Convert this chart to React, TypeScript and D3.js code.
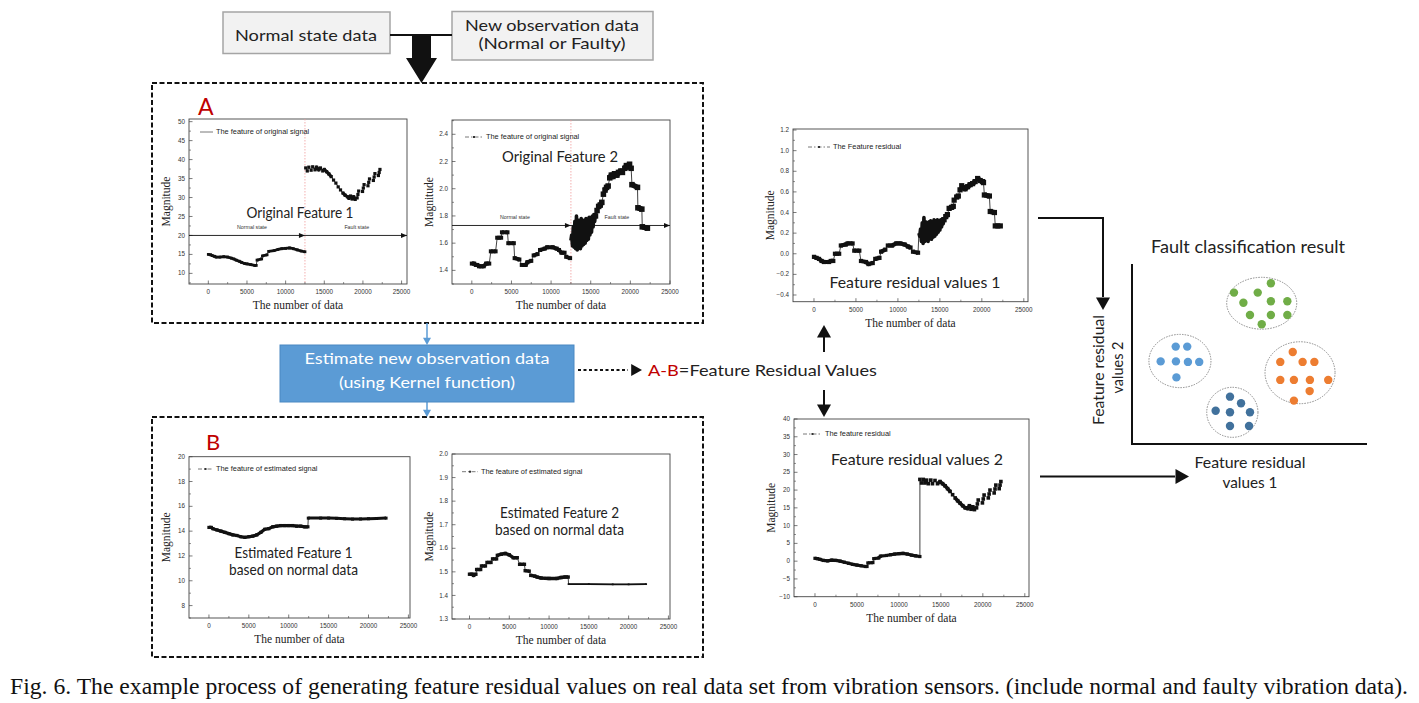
import React from "react";
import * as d3 from "d3";

type Pt = [number, number] | null;

// ---------- axis ticks ----------
const xTicks = [0, 5000, 10000, 15000, 20000, 25000];
const xMinorTicks = [2500, 7500, 12500, 17500, 22500];
const orig1YTicks = [10, 15, 20, 25, 30, 35, 40, 45, 50];
const orig1YMinor = [7.5, 12.5, 17.5, 22.5, 27.5, 32.5, 37.5, 42.5, 47.5];
const orig2YTicks = [1.4, 1.6, 1.8, 2.0, 2.2, 2.4];
const orig2YMinor = [1.3, 1.5, 1.7, 1.9, 2.1, 2.3, 2.5];
const resid1YTicks = [-0.4, -0.2, 0.0, 0.2, 0.4, 0.6, 0.8, 1.0, 1.2];
const resid1YMinor = [-0.3, -0.1, 0.1, 0.3, 0.5, 0.7, 0.9, 1.1];
const est1YTicks = [8, 10, 12, 14, 16, 18, 20];
const est1YMinor = [7, 9, 11, 13, 15, 17, 19];
const est2YTicks = [1.3, 1.4, 1.5, 1.6, 1.7, 1.8, 1.9, 2.0];
const est2YMinor = [1.35, 1.45, 1.55, 1.65, 1.75, 1.85, 1.95];
const resid2YTicks = [-10, -5, 0, 5, 10, 15, 20, 25, 30, 35, 40];
const resid2YMinor = [-7.5, -2.5, 2.5, 7.5, 12.5, 17.5, 22.5, 27.5, 32.5, 37.5];

// ---------- A: original feature 1 ----------
const orig1Normal: Pt[] = [
  [0, 15.0], [300, 14.9], [500, 14.7], [800, 14.5], [1000, 14.3], [1500, 14.3], [2000, 14.4], [2500, 14.3],
  [3000, 14.0], [3300, 13.8], [3600, 13.5], [4000, 13.2], [4300, 12.9], [4700, 12.6], [5000, 12.5], [5500, 12.3],
  [6000, 12.1], [6200, 12.1], [6300, 13.5], [6900, 13.8], [7000, 14.6], [7600, 14.9], [7800, 15.8], [8500, 16.0],
  [9000, 16.3], [9500, 16.5], [10000, 16.6], [10500, 16.7], [11000, 16.5], [11500, 16.2], [12000, 15.9], [12500, 15.7],
];
const orig1Fault: Pt[] = [
  [12600, 37.8], [12800, 37.0], [13000, 38.0], [13300, 37.2], [13500, 38.1], [13800, 37.3], [14000, 38.0],
  [14300, 37.3], [14500, 37.8], [14800, 37.0], [15000, 37.4], [15300, 36.8], [15600, 36.2], [15900, 35.5],
  [16200, 34.6], [16500, 33.8], [16800, 32.8], [17100, 32.0], [17400, 31.2], [17700, 30.6], [18000, 30.2],
  [18200, 29.8], [18400, 30.4], [18600, 29.6], [18800, 30.2], [19000, 29.5], null,
  [19250, 29.9], [19350, 30.8], [19450, 31.7], null,
  [19950, 31.6], [20050, 32.5], [20150, 33.4], null,
  [20650, 33.1], [20750, 34.0], [20850, 34.9], null,
  [21350, 34.5], [21450, 35.4], [21550, 36.3], null,
  [22000, 35.8], [22100, 36.6], [22200, 37.4],
];

// ---------- A: original feature 2 ----------
const orig2Normal: Pt[] = [
  [0, 1.45], [300, 1.45], [500, 1.44], [700, 1.44], [900, 1.43], [1200, 1.43], [1500, 1.43], [1800, 1.45],
  [2200, 1.45], [2400, 1.54], [3000, 1.54], [3200, 1.64], [3700, 1.64], [3800, 1.68], [4500, 1.68], [4600, 1.60],
  [5300, 1.60], [5400, 1.49], [6000, 1.48], [6300, 1.44], [6800, 1.44], [7000, 1.46], [7500, 1.47], [7800, 1.51],
  [8300, 1.52], [8600, 1.55], [9200, 1.56], [9500, 1.57], [10200, 1.57], [10700, 1.56], [11000, 1.55],
  [11300, 1.53], [11700, 1.53], [11900, 1.50], [12400, 1.49],
];
const orig2Noise: Pt[] = [
  [12500, 1.62], [12600, 1.66], [12700, 1.58], [12800, 1.72], [12900, 1.57], [13000, 1.76], [13100, 1.56],
  [13200, 1.80], [13300, 1.55], [13400, 1.77], [13500, 1.57], [13600, 1.75], [13700, 1.56], [13800, 1.78],
  [13900, 1.58], [14000, 1.76], [14100, 1.59], [14200, 1.77], [14300, 1.60], [14400, 1.78], [14500, 1.62],
  [14600, 1.77], [14700, 1.63], [14800, 1.79], [14900, 1.66], [15000, 1.78], [15100, 1.68], [15200, 1.80],
  [15300, 1.72], [15400, 1.81], [15500, 1.76], [15600, 1.82],
];
const orig2Trend: Pt[] = [
  [15600, 1.80], [15800, 1.84], [16000, 1.87], [16200, 1.88], [16400, 1.90], [16600, 1.96], [16800, 1.99],
  [17000, 2.01], [17200, 2.02], [17400, 2.08], [17600, 2.10], [17800, 2.09], [18000, 2.11], [18300, 2.10],
  [18500, 2.12], [18800, 2.13], [19000, 2.12], [19300, 2.15], [19500, 2.17], [19700, 2.16], [19900, 2.18],
  [20100, 2.15], [20200, 2.03], [20900, 2.01], [20950, 1.86], [21450, 1.85], [21500, 1.72], [22150, 1.71],
];

// ---------- residual 1 ----------
const resid1Normal: Pt[] = [
  [0, -0.03], [300, -0.04], [600, -0.05], [900, -0.07], [1200, -0.08], [1800, -0.08], [2000, -0.07],
  [2300, -0.07], [2500, 0.0], [3000, 0.0], [3200, 0.08], [3800, 0.09], [4000, 0.1], [4600, 0.1], [4800, 0.03],
  [5400, 0.03], [5600, -0.07], [6200, -0.08], [6500, -0.1], [7000, -0.09], [7300, -0.05], [7800, -0.04],
  [8000, 0.02], [8500, 0.04], [8800, 0.08], [9300, 0.08], [9800, 0.1], [10300, 0.1], [10800, 0.09],
  [11200, 0.07], [11500, 0.06], [11800, 0.02], [12400, 0.01],
];
const resid1Noise: Pt[] = [
  [12500, 0.20], [12600, 0.17], [12700, 0.24], [12800, 0.12], [12900, 0.30], [13000, 0.10], [13100, 0.35],
  [13200, 0.12], [13300, 0.31], [13400, 0.13], [13500, 0.30], [13600, 0.12], [13700, 0.31], [13800, 0.15],
  [13900, 0.32], [14000, 0.14], [14100, 0.31], [14200, 0.16], [14300, 0.33], [14400, 0.17], [14500, 0.32],
  [14600, 0.19], [14700, 0.33], [14800, 0.21], [14900, 0.32], [15000, 0.23], [15100, 0.33], [15200, 0.26],
  [15300, 0.34], [15400, 0.29], [15500, 0.35],
];
const resid1Trend: Pt[] = [
  [15500, 0.33], [15700, 0.36], [15900, 0.38], [16100, 0.44], [16400, 0.45], [16600, 0.46], [16700, 0.52],
  [17000, 0.55], [17200, 0.56], [17400, 0.62], [17600, 0.66], [17800, 0.64], [18000, 0.63], [18300, 0.65],
  [18600, 0.67], [18900, 0.68], [19200, 0.70], [19500, 0.73], [19800, 0.71], [20100, 0.70], [20200, 0.69],
  [20300, 0.57], [20900, 0.56], [21000, 0.41], [21500, 0.40], [21600, 0.27], [22200, 0.27],
];

// ---------- B: estimated feature 1 ----------
const est1Normal: Pt[] = [
  [0, 14.3], [300, 14.3], [500, 14.2], [1000, 14.1], [1500, 14.0], [2000, 13.9], [2500, 13.8], [3000, 13.7],
  [3500, 13.65], [4000, 13.55], [4500, 13.5], [5000, 13.55], [5500, 13.6], [6000, 13.7], [6500, 13.9],
  [7000, 14.15], [7500, 14.2], [8000, 14.35], [8500, 14.4], [9000, 14.45], [9500, 14.45], [10000, 14.45],
  [10500, 14.45], [11000, 14.4], [11500, 14.4], [12000, 14.35], [12400, 14.35],
];
const est1Fault: Pt[] = [
  [12450, 15.05], [14000, 15.05], [15000, 15.05], [16000, 15.03], [17000, 15.0], [18000, 14.97],
  [19000, 14.98], [20000, 15.0], [21000, 15.02], [22200, 15.05],
];

// ---------- B: estimated feature 2 ----------
const est2Normal: Pt[] = [
  [0, 1.49], [400, 1.49], [500, 1.485], [800, 1.49], [900, 1.51], [1400, 1.51], [1500, 1.525], [2000, 1.525],
  [2200, 1.54], [2700, 1.54], [2900, 1.555], [3400, 1.555], [3500, 1.57], [4000, 1.575], [4500, 1.578],
  [5000, 1.572], [5500, 1.56], [6000, 1.56], [6300, 1.532], [6900, 1.532], [7000, 1.505], [7500, 1.503],
  [7700, 1.485], [8200, 1.482], [8500, 1.478], [9000, 1.474], [10000, 1.472], [11000, 1.472], [11500, 1.476],
  [12000, 1.478], [12400, 1.478],
];
const est2Fault: Pt[] = [
  [12450, 1.448], [15000, 1.448], [18000, 1.447], [20000, 1.447], [22200, 1.448],
];

// ---------- residual 2 ----------
const resid2Normal: Pt[] = [
  [0, 0.8], [300, 0.7], [600, 0.5], [1000, 0.2], [1500, 0.1], [2000, 0.3], [2500, 0.2], [3000, 0.0],
  [3500, -0.3], [4000, -0.6], [4500, -0.9], [5000, -1.1], [5500, -1.3], [6000, -1.5], [6200, -1.5],
  [6300, -0.5], [6900, -0.4], [7000, 0.7], [7600, 0.9], [7800, 1.4], [8500, 1.6], [9000, 1.8], [9500, 2.0],
  [10000, 2.1], [10500, 2.2], [11000, 2.0], [11500, 1.7], [12000, 1.5], [12500, 1.3],
];
const resid2Fault: Pt[] = [
  [12500, 23.0], [12700, 22.0], [12900, 23.0], [13100, 22.0], [13300, 22.8], [13500, 21.8], [13800, 22.8],
  [14000, 21.8], [14300, 22.7], [14600, 21.8], [14900, 22.4], [15200, 21.8], [15500, 21.2], [15800, 20.4],
  [16100, 19.6], [16400, 18.7], [16700, 17.8], [17000, 17.0], [17300, 16.3], [17600, 15.6], [17900, 15.0],
  [18200, 14.8], [18400, 15.6], [18600, 14.6], [18800, 15.3], [19000, 14.5], null,
  [19250, 15.0], [19350, 16.1], [19450, 17.2], null,
  [19950, 16.4], [20050, 17.5], [20150, 18.6], null,
  [20650, 17.8], [20750, 18.9], [20850, 20.0], null,
  [21350, 19.2], [21450, 20.3], [21550, 21.4], null,
  [21950, 20.4], [22050, 21.4], [22150, 22.4],
];

// ---------- fault classification clusters (relative units 0-100) ----------
const clusterGreen: [number, number][] = [
  [43.4, 84.1], [53.5, 84.1], [59.1, 89.3], [47.4, 78.5], [59.1, 79.3], [66.1, 79.3], [50.2, 71.7],
  [59.1, 71.7], [66.1, 71.7], [55.2, 66.5],
];
const clusterLightBlue: [number, number][] = [
  [18.6, 54.1], [23.5, 54.1], [12.2, 45.9], [18.7, 45.9], [23.8, 45.6], [28.6, 45.6], [18.9, 37.0],
];
const clusterOrange: [number, number][] = [
  [68.4, 51.1], [63.1, 45.6], [72.6, 45.6], [77.6, 45.6], [63.1, 35.6], [68.9, 35.6], [75.7, 35.6],
  [83.5, 35.6], [75.6, 29.4], [68.9, 24.1],
];
const clusterDarkBlue: [number, number][] = [
  [41.7, 26.3], [46.4, 22.6], [35.6, 18.5], [41.7, 17.6], [50.2, 17.6], [41.7, 10.0], [49.8, 10.0],
];
// ellipse: cx, cy, rx, ry
const clusterEllipses: [number, number, number, number][] = [
  [55.2, 78.2, 14.9, 14.4],
  [20.4, 46.1, 13.2, 14.8],
  [71.5, 39.6, 14.9, 17.2],
  [42.7, 17.6, 10.9, 13.9],
];

type Series = { pts: Pt[]; thick: number; noise?: boolean; joinPrev?: boolean };
type ChartCfg = {
  id: string;
  x: number; y: number; w: number; h: number;
  xDomain: [number, number]; yDomain: [number, number];
  yTicks: number[]; yMinor: number[]; yFmt: (v: number) => string;
  series: Series[];
  legend: { text: string; dx: number; dy: number; len: number; solid?: boolean };
  state?: { y: number; nx: number; fx: number };
  faultLine?: boolean;
};

const INK = "#111";
const AX = "#444";
const SERIF = "'Liberation Serif', 'Times New Roman', serif";
const SANS = "'Liberation Sans', Arial, sans-serif";
const CAL = "Lato, 'Open Sans', sans-serif";

function Chart({ c }: { c: ChartCfg }) {
  const xs = d3.scaleLinear().domain(c.xDomain).range([c.x, c.x + c.w]);
  const ys = d3.scaleLinear().domain(c.yDomain).range([c.y + c.h, c.y]);
  const line = d3.line<[number, number]>();
  const els: React.ReactNode[] = [];
  let prevLast: [number, number] | null = null;
  c.series.forEach((s, si) => {
    const runs: [number, number][][] = [];
    let cur: [number, number][] = [];
    s.pts.forEach((p) => {
      if (p === null) { if (cur.length) runs.push(cur); cur = []; }
      else cur.push([xs(p[0]), ys(p[1])]);
    });
    if (cur.length) runs.push(cur);
    if (s.joinPrev && prevLast && runs.length) {
      els.push(<line key={`j${si}`} x1={prevLast[0]} y1={prevLast[1]} x2={runs[0][0][0]} y2={runs[0][0][1]} stroke={INK} strokeWidth={0.8} />);
    }
    runs.forEach((r, ri) => {
      if (s.noise) {
        els.push(<path key={`n${si}-${ri}`} d={line(r) || ""} fill="none" stroke={INK} strokeWidth={s.thick} strokeLinejoin="round" />);
        return;
      }
      els.push(<path key={`t${si}-${ri}`} d={line(r) || ""} fill="none" stroke={INK} strokeWidth={0.8} />);
      const segs: [number, number][][] = [];
      let seg: [number, number][] = [r[0]];
      for (let i = 1; i < r.length; i++) {
        const dx = Math.abs(r[i][0] - r[i - 1][0]);
        const dy = Math.abs(r[i][1] - r[i - 1][1]);
        if (dy <= 3 || dy <= 1.2 * dx) seg.push(r[i]);
        else { if (seg.length > 1) segs.push(seg); seg = [r[i]]; }
      }
      if (seg.length > 1) segs.push(seg);
      segs.forEach((sg, k) => els.push(
        <path key={`k${si}-${ri}-${k}`} d={line(sg) || ""} fill="none" stroke={INK} strokeWidth={s.thick} strokeLinejoin="round" />
      ));
      r.forEach((p, k) => els.push(
        <rect key={`m${si}-${ri}-${k}`} x={p[0] - s.thick / 2} y={p[1] - s.thick / 2} width={s.thick} height={s.thick} fill={INK} />
      ));
    });
    const lr = runs[runs.length - 1];
    if (lr) prevLast = lr[lr.length - 1];
  });

  const bottom = c.y + c.h;
  const lx = c.x + c.legend.dx, ly = c.y + c.legend.dy;
  return (
    <g>
      <rect x={c.x} y={c.y} width={c.w} height={c.h} fill="#fff" stroke={AX} strokeWidth={0.9} />
      {c.faultLine && (
        <line x1={xs(12500)} x2={xs(12500)} y1={c.y} y2={bottom} stroke="#f09a9a" strokeWidth={0.8} strokeDasharray="1.5 1.5" />
      )}
      {c.yTicks.map((t) => (
        <g key={`yt${t}`}>
          <line x1={c.x} x2={c.x + 3.5} y1={ys(t)} y2={ys(t)} stroke={AX} strokeWidth={0.7} />
          <text x={c.x - 4} y={ys(t)} dy="0.33em" textAnchor="end" fontFamily={SANS} fontSize={6.3} fill="#333">{c.yFmt(t)}</text>
        </g>
      ))}
      {c.yMinor.filter((t) => ys(t) >= c.y && ys(t) <= bottom).map((t) => (
        <line key={`ym${t}`} x1={c.x} x2={c.x + 2} y1={ys(t)} y2={ys(t)} stroke={AX} strokeWidth={0.6} />
      ))}
      {xTicks.map((t) => (
        <g key={`xt${t}`}>
          <line x1={xs(t)} x2={xs(t)} y1={bottom} y2={bottom - 3.5} stroke={AX} strokeWidth={0.7} />
          <text x={xs(t)} y={bottom + 10} textAnchor="middle" fontFamily={SANS} fontSize={6.3} fill="#333">{t}</text>
        </g>
      ))}
      {xMinorTicks.map((t) => (
        <line key={`xm${t}`} x1={xs(t)} x2={xs(t)} y1={bottom} y2={bottom - 2} stroke={AX} strokeWidth={0.6} />
      ))}
      {c.state && (
        <g>
          <line x1={c.x} x2={c.x + c.w} y1={ys(c.state.y)} y2={ys(c.state.y)} stroke={INK} strokeWidth={0.9} />
          <path d={`M${xs(12500) - 6},${ys(c.state.y) - 2.5}L${xs(12500)},${ys(c.state.y)}L${xs(12500) - 6},${ys(c.state.y) + 2.5}Z`} fill={INK} />
          <path d={`M${c.x + c.w - 6},${ys(c.state.y) - 2.5}L${c.x + c.w},${ys(c.state.y)}L${c.x + c.w - 6},${ys(c.state.y) + 2.5}Z`} fill={INK} />
          <text x={xs(c.state.nx)} y={ys(c.state.y) - 6} textAnchor="middle" fontFamily={SANS} fontSize={5.3} fill="#333">Normal state</text>
          <text x={xs(c.state.fx)} y={ys(c.state.y) - 6} textAnchor="middle" fontFamily={SANS} fontSize={5.3} fill="#333">Fault state</text>
        </g>
      )}
      {els}
      <g>
        <line x1={lx} x2={lx + c.legend.len} y1={ly} y2={ly} stroke="#555" strokeWidth={0.8}
          strokeDasharray={c.legend.solid ? undefined : "4 2 1.5 2"} />
        {!c.legend.solid && <rect x={lx + c.legend.len / 2 - 1} y={ly - 1} width={2} height={2} fill="#333" />}
        <text x={lx + c.legend.len + 3} y={ly} dy="0.33em" fontFamily={SANS} fontSize={7.4} fill="#222">{c.legend.text}</text>
      </g>
      <text transform={`translate(${c.x - 23},${c.y + c.h / 2}) rotate(-90)`} textAnchor="middle" dy="0.35em"
        fontFamily={SERIF} fontSize={11.5} fill="#222">Magnitude</text>
      <text x={c.x + c.w / 2} y={bottom + 25} textAnchor="middle" fontFamily={SERIF} fontSize={11.5} fill="#222">The number of data</text>
    </g>
  );
}

const fmt0 = (v: number) => d3.format("d")(v);
const fmt1 = (v: number) => d3.format(".1f")(v);

const charts: ChartCfg[] = [
  {
    id: "A1", x: 189, y: 119, w: 218, h: 165, xDomain: [-2500, 25700], yDomain: [7.2, 50.7],
    yTicks: orig1YTicks, yMinor: orig1YMinor, yFmt: fmt0,
    series: [{ pts: orig1Normal, thick: 2.8 }, { pts: orig1Fault, thick: 3.2 }],
    legend: { text: "The feature of original signal", dx: 11, dy: 13, len: 13, solid: true },
    state: { y: 20, nx: 5650, fx: 19200 }, faultLine: true,
  },
  {
    id: "A2", x: 452, y: 120, w: 218, h: 164, xDomain: [-2500, 25000], yDomain: [1.3, 2.505],
    yTicks: orig2YTicks, yMinor: orig2YMinor, yFmt: fmt1,
    series: [{ pts: orig2Normal, thick: 4 }, { pts: orig2Noise, thick: 3.6, noise: true },
      { pts: orig2Trend, thick: 5.5, joinPrev: true }],
    legend: { text: "The feature of original signal", dx: 13, dy: 17, len: 18 },
    state: { y: 1.73, nx: 5440, fx: 18300 }, faultLine: true,
  },
  {
    id: "R1", x: 793, y: 129, w: 235, h: 172.7, xDomain: [-2500, 25500], yDomain: [-0.465, 1.21],
    yTicks: resid1YTicks, yMinor: resid1YMinor, yFmt: fmt1,
    series: [{ pts: resid1Normal, thick: 4.2 }, { pts: resid1Noise, thick: 3.6, noise: true, joinPrev: true },
      { pts: resid1Trend, thick: 5.2, joinPrev: true }],
    legend: { text: "The Feature residual", dx: 15, dy: 18, len: 22 },
  },
  {
    id: "B1", x: 189, y: 456.7, w: 221, h: 161.3, xDomain: [-2500, 25200], yDomain: [7, 20],
    yTicks: est1YTicks, yMinor: est1YMinor, yFmt: fmt0,
    series: [{ pts: est1Normal, thick: 3.2 }, { pts: est1Fault, thick: 3, joinPrev: true }],
    legend: { text: "The feature of estimated signal", dx: 9, dy: 12.3, len: 15 },
  },
  {
    id: "B2", x: 452, y: 454, w: 218, h: 165, xDomain: [-2200, 25200], yDomain: [1.3, 2.0],
    yTicks: est2YTicks, yMinor: est2YMinor, yFmt: fmt1,
    series: [{ pts: est2Normal, thick: 3.4 }, { pts: est2Fault, thick: 1.8, joinPrev: true }],
    legend: { text: "The feature of estimated signal", dx: 10, dy: 17.7, len: 16 },
  },
  {
    id: "R2", x: 794, y: 419, w: 235, h: 177.7, xDomain: [-2500, 25500], yDomain: [-10, 40],
    yTicks: resid2YTicks, yMinor: resid2YMinor, yFmt: fmt0,
    series: [{ pts: resid2Normal, thick: 3.2 }, { pts: resid2Fault, thick: 3.6, joinPrev: true }],
    legend: { text: "The feature residual", dx: 9, dy: 15, len: 19 },
  },
];

type Label = { t: string; x: number; y: number; size: number; w: number; color?: string };
const labels: Label[] = [
  { t: "Normal state data", x: 306, y: 35, size: 16, w: 142 },
  { t: "New observation data", x: 552, y: 25, size: 16, w: 174 },
  { t: "(Normal or Faulty)", x: 552, y: 43.5, size: 16, w: 147 },
  { t: "Original Feature 1", x: 300, y: 213, size: 14.5, w: 107 },
  { t: "Original Feature 2", x: 560, y: 157, size: 14.5, w: 116 },
  { t: "Feature residual values 1", x: 915, y: 283, size: 15, w: 171 },
  { t: "Feature residual values 2", x: 917, y: 460, size: 15, w: 172 },
  { t: "Estimated Feature 1", x: 293.5, y: 553, size: 15, w: 118 },
  { t: "based on normal data", x: 293.5, y: 570, size: 15, w: 129 },
  { t: "Estimated Feature 2", x: 559.5, y: 513, size: 15, w: 119 },
  { t: "based on normal data", x: 559.5, y: 530, size: 15, w: 129 },
  { t: "Fault classification result", x: 1248, y: 247, size: 16.5, w: 194 },
  { t: "Feature residual", x: 1250, y: 462, size: 16, w: 111 },
  { t: "values 1", x: 1250, y: 482, size: 16, w: 55 },
  { t: "Estimate new observation data", x: 427, y: 359, size: 15.5, w: 245, color: "#fff" },
  { t: "(using Kernel function)", x: 427, y: 383, size: 15.5, w: 176, color: "#fff" },
];

function Arrow({ pts, tip, dir, size = 7, width = 2, color = INK, dash }: {
  pts: [number, number][]; tip: [number, number]; dir: "up" | "down" | "right"; size?: number; width?: number; color?: string; dash?: string;
}) {
  const [tx, ty] = tip;
  const L = size * 1.8;
  let head = "";
  if (dir === "down") head = `M${tx - size},${ty - L}L${tx + size},${ty - L}L${tx},${ty}Z`;
  if (dir === "up") head = `M${tx - size},${ty + L}L${tx + size},${ty + L}L${tx},${ty}Z`;
  if (dir === "right") head = `M${tx - L},${ty - size}L${tx - L},${ty + size}L${tx},${ty}Z`;
  return (
    <g>
      <path d={d3.line()(pts) || ""} fill="none" stroke={color} strokeWidth={width} strokeDasharray={dash} />
      <path d={head} fill={color} />
    </g>
  );
}

export default function App() {
  const cx = d3.scaleLinear().domain([0, 100]).range([1132, 1367]);
  const cy = d3.scaleLinear().domain([0, 100]).range([444, 264]);
  const clusters: [[number, number][], string][] = [
    [clusterGreen, "#70ad47"], [clusterLightBlue, "#5b9bd5"], [clusterOrange, "#ed7d31"], [clusterDarkBlue, "#41719c"],
  ];
  return (
    <svg width={1419} height={703} style={{ position: "absolute", left: 0, top: 0, background: "#fff" }}>
      <rect x={0} y={0} width={1419} height={703} fill="#fff" />
      {/* top input boxes */}
      <rect x={223} y={12} width={167} height={41.5} fill="#f2f2f2" stroke="#a5a5a5" strokeWidth={1.5} />
      <rect x={452} y={11.5} width={201} height={48.5} fill="#f2f2f2" stroke="#a5a5a5" strokeWidth={1.5} />
      <line x1={390} x2={452} y1={35} y2={35} stroke={INK} strokeWidth={2} />
      <path d="M412,35L431,35L431,58L437,58L421.5,83L406,58L412,58Z" fill={INK} />

      {/* dashed group boxes */}
      <rect x={152} y={83} width={551} height={240} fill="none" stroke={INK} strokeWidth={2} strokeDasharray="5 2.5" />
      <rect x={152} y={417} width={551} height={240} fill="none" stroke={INK} strokeWidth={2} strokeDasharray="5 2.5" />

      <text x={198} y={115} fontFamily={CAL} fontSize={23} fill="#c00000">A</text>
      <text x={206} y={450} fontFamily={CAL} fontSize={22} fill="#c00000">B</text>

      {charts.map((c) => <Chart key={c.id} c={c} />)}

      {/* estimate box */}
      <Arrow pts={[[427, 323], [427, 339]]} tip={[427, 345]} dir="down" size={4} width={1.5} color="#5b9bd5" />
      <Arrow pts={[[427, 402], [427, 411]]} tip={[427, 417]} dir="down" size={4} width={1.5} color="#5b9bd5" />
      <rect x={280} y={345} width={294} height={57} fill="#5b9bd5" stroke="#4a88c2" strokeWidth={1} />
      <Arrow pts={[[578, 370], [628, 370]]} tip={[642, 370]} dir="right" size={6} width={2} dash="3 2.5" />

      <text x={648} y={370} dy="0.35em" fontFamily={CAL} fontSize={16} textLength={229} lengthAdjust="spacingAndGlyphs">
        <tspan fill="#c00000">A-B</tspan><tspan fill="#222">=Feature Residual Values</tspan>
      </text>
      <Arrow pts={[[824, 352], [824, 336]]} tip={[824, 325]} dir="up" size={7} width={2} />
      <Arrow pts={[[824, 390], [824, 405]]} tip={[824, 417]} dir="down" size={7} width={2} />

      {/* arrows to classification */}
      <Arrow pts={[[1038, 218], [1103, 218], [1103, 297]]} tip={[1103, 310]} dir="down" size={7} width={2} />
      <Arrow pts={[[1040, 476.5], [1175, 476.5]]} tip={[1189, 476.5]} dir="right" size={7.5} width={2} />

      {/* classification */}
      {clusterEllipses.map((e, i) => (
        <ellipse key={`e${i}`} cx={cx(e[0])} cy={cy(e[1])} rx={cx(e[2]) - cx(0)} ry={cy(0) - cy(e[3])}
          fill="none" stroke="#8a8a8a" strokeWidth={1} strokeDasharray="1.5 1.2" />
      ))}
      {clusters.map(([pts, col], i) => pts.map((p, k) => (
        <circle key={`c${i}-${k}`} cx={cx(p[0])} cy={cy(p[1])} r={4.2} fill={col} />
      )))}
      <path d={`M${cx(0)},${cy(100)}L${cx(0)},${cy(0)}L${cx(100)},${cy(0)}`} fill="none" stroke={INK} strokeWidth={2} />
      <text transform="translate(1098.5,370) rotate(-90)" textAnchor="middle" dy="0.35em" fontFamily={CAL} fontSize={16}
        textLength={110} lengthAdjust="spacingAndGlyphs" fill="#222">Feature residual</text>
      <text transform="translate(1117,367.5) rotate(-90)" textAnchor="middle" dy="0.35em" fontFamily={CAL} fontSize={16}
        textLength={52} lengthAdjust="spacingAndGlyphs" fill="#222">values 2</text>

      {labels.map((l, i) => (
        <text key={`l${i}`} x={l.x} y={l.y} dy="0.35em" textAnchor="middle" fontFamily={CAL} fontSize={l.size}
          fill={l.color || "#222"} textLength={l.w} lengthAdjust="spacingAndGlyphs">{l.t}</text>
      ))}

      <text x={10} y={694} fontFamily={SERIF} fontSize={22.5} fill="#111" textLength={1398} lengthAdjust="spacingAndGlyphs">
        Fig. 6. The example process of generating feature residual values on real data set from vibration sensors. (include normal and faulty vibration data).
      </text>
    </svg>
  );
}
